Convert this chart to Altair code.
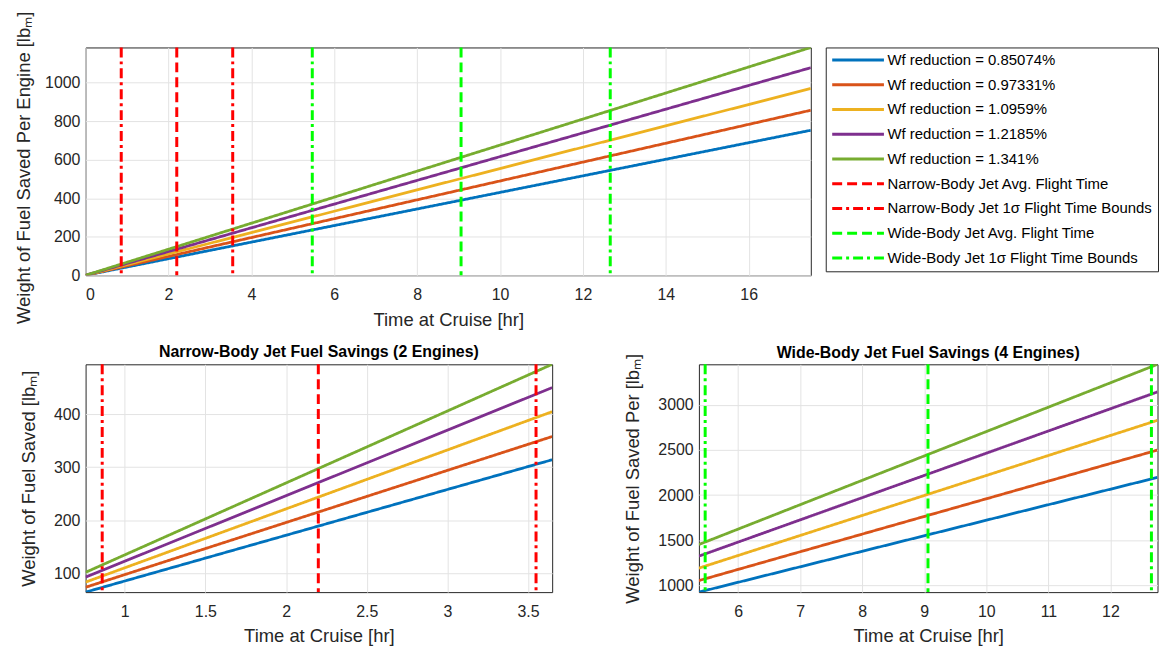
import altair as alt
import pandas as pd

# ---------------- data ----------------
series_labels = [
    "Wf reduction = 0.85074%",
    "Wf reduction = 0.97331%",
    "Wf reduction = 1.0959%",
    "Wf reduction = 1.2185%",
    "Wf reduction = 1.341%",
]
series_colors = ["#0072BD", "#D95319", "#EDB120", "#7E2F8E", "#77AC30"]

flight_labels = [
    "Narrow-Body Jet Avg. Flight Time",
    "Narrow-Body Jet 1σ Flight Time Bounds",
    "Wide-Body Jet Avg. Flight Time",
    "Wide-Body Jet 1σ Flight Time Bounds",
]
flight_colors = ["#FF0000", "#FF0000", "#00FF00", "#00FF00"]

# top panel: fuel saved per engine (lbm) at start / end of the time range
top_time = [0.0, 17.5]
top_start = [0, 0, 0, 0, 0]
top_end = [753, 857, 970, 1078, 1183]

# narrow-body panel (2 engines)
narrow_time = [0.757, 3.65]
narrow_start = [65.1, 74.2, 83.9, 93.3, 102.3]
narrow_end = [314.0, 357.7, 404.4, 449.7, 493.5]

# wide-body panel (4 engines)
wide_time = [5.369, 12.758]
wide_start = [924, 1052, 1190, 1323, 1452]
wide_end = [2196, 2499, 2829, 3144, 3450]

# flight times (hr)
narrow_avg = 2.2
narrow_bounds = [0.86, 3.55]
wide_avg = 9.06
wide_bounds = [5.47, 12.66]

# tick values
top_x_ticks = [0, 2, 4, 6, 8, 10, 12, 14, 16]
top_y_ticks = [0, 200, 400, 600, 800, 1000]
narrow_x_ticks = [1, 1.5, 2, 2.5, 3, 3.5]
narrow_y_ticks = [100, 200, 300, 400]
wide_x_ticks = [6, 7, 8, 9, 10, 11, 12]
wide_y_ticks = [1000, 1500, 2000, 2500, 3000]

# ---------------- tables ----------------
all_labels = series_labels + flight_labels
all_colors = series_colors + flight_colors
all_dashes = [[1, 0]] * 5 + [[10, 5], [10, 4, 3, 4], [10, 5], [10, 4, 3, 4]]


def line_table(times, starts, ends):
    rows = []
    for lab, s, e in zip(series_labels, starts, ends):
        rows.append({"label": lab, "t": times[0], "w": s})
        rows.append({"label": lab, "t": times[1], "w": e})
    return pd.DataFrame(rows)


def rule_table(include_narrow, include_wide):
    rows = []
    if include_narrow:
        rows.append({"label": flight_labels[0], "t": narrow_avg})
        for b in narrow_bounds:
            rows.append({"label": flight_labels[1], "t": b})
    if include_wide:
        rows.append({"label": flight_labels[2], "t": wide_avg})
        for b in wide_bounds:
            rows.append({"label": flight_labels[3], "t": b})
    return pd.DataFrame(rows)


FONT = "Liberation Sans"
LABEL_EXPR = "'' + datum.value"


def panel(lines_df, rules_df, xdom, ydom, xticks, yticks, ytitle, width, height,
          title=None, show_legend=False, ytitle_pad=8, ytitle_y=None, title_dy=0):
    if show_legend:
        legend = alt.Legend(
            title=None, orient="right", offset=15, padding=5,
            strokeColor="#262626", fillColor="white",
            labelFont=FONT, labelFontSize=15, labelColor="#000000",
            labelLimit=400, labelOffset=2,
            symbolType="stroke", symbolSize=2704, symbolStrokeWidth=3,
            clipHeight=15, rowPadding=8.9,
        )
    else:
        legend = None
    color = alt.Color("label:N", scale=alt.Scale(domain=all_labels, range=all_colors),
                      legend=legend)
    dash = alt.StrokeDash("label:N", scale=alt.Scale(domain=all_labels, range=all_dashes),
                          legend=legend)
    x = alt.X("t:Q", scale=alt.Scale(domain=xdom, nice=False, zero=False),
              axis=alt.Axis(values=xticks, title="Time at Cruise [hr]", labelExpr=LABEL_EXPR))
    yaxis_kw = dict(values=yticks, title=ytitle, labelExpr=LABEL_EXPR, titlePadding=ytitle_pad)
    if ytitle_y is not None:
        yaxis_kw["titleY"] = ytitle_y
    y = alt.Y("w:Q", scale=alt.Scale(domain=ydom, nice=False, zero=False),
              axis=alt.Axis(**yaxis_kw))
    lines = alt.Chart(lines_df).mark_line(strokeWidth=2.8, clip=True).encode(
        x=x, y=y, color=color, strokeDash=dash, detail="label:N")
    rules = alt.Chart(rules_df).mark_rule(strokeWidth=3).encode(
        x=alt.X("t:Q"), color=color, strokeDash=dash)
    props = dict(width=width, height=height)
    if title:
        props["title"] = alt.TitleParams(title, fontSize=16, fontWeight="bold",
                                         color="#000000", font=FONT, offset=3,
                                         dy=title_dy)
    return alt.layer(lines, rules).properties(**props)


top_lines = line_table(top_time, top_start, top_end)
narrow_lines = line_table(narrow_time, narrow_start, narrow_end)
wide_lines = line_table(wide_time, wide_start, wide_end)

top = panel(top_lines, rule_table(True, True), top_time,
            [min(top_start), max(top_end)], top_x_ticks, top_y_ticks,
            "Weight of Fuel Saved Per Engine [lbₘ]", 729, 229, show_legend=True,
            ytitle_pad=11.5, ytitle_y=120.5)
narrow = panel(narrow_lines, rule_table(True, False), narrow_time,
               [min(narrow_start), max(narrow_end)], narrow_x_ticks, narrow_y_ticks,
               "Weight of Fuel Saved [lbₘ]", 469, 229,
               title="Narrow-Body Jet Fuel Savings (2 Engines)", ytitle_pad=15.3)
wide = panel(wide_lines, rule_table(False, True), wide_time,
             [min(wide_start), max(wide_end)], wide_x_ticks, wide_y_ticks,
             "Weight of Fuel Saved Per [lbₘ]", 461, 229,
             title="Wide-Body Jet Fuel Savings (4 Engines)", ytitle_pad=15,
             title_dy=10.5)

bottom = alt.hconcat(narrow, wide, spacing=70.5).resolve_legend(
    color="independent", strokeDash="independent")

chart = alt.vconcat(top, bottom, spacing=14.5).resolve_legend(
    color="independent", strokeDash="independent"
).properties(
    padding={"left": 5, "top": 0, "right": 0, "bottom": 0},
    background="white",
).configure_axis(
    labelFont=FONT, labelFontSize=16, labelColor="#262626",
    titleFont=FONT, titleFontSize=18.5, titleFontWeight="normal", titleColor="#262626",
    grid=True, gridColor="#e3e3e3", gridWidth=1,
    domain=False, ticks=False,
).configure_axisX(
    labelPadding=11.5, titlePadding=7.5,
).configure_axisY(
    labelPadding=5.7,
).configure_view(
    stroke="#262626", strokeWidth=1
)

chart.save("out.html", embed_options={"renderer": "svg", "actions": False})
